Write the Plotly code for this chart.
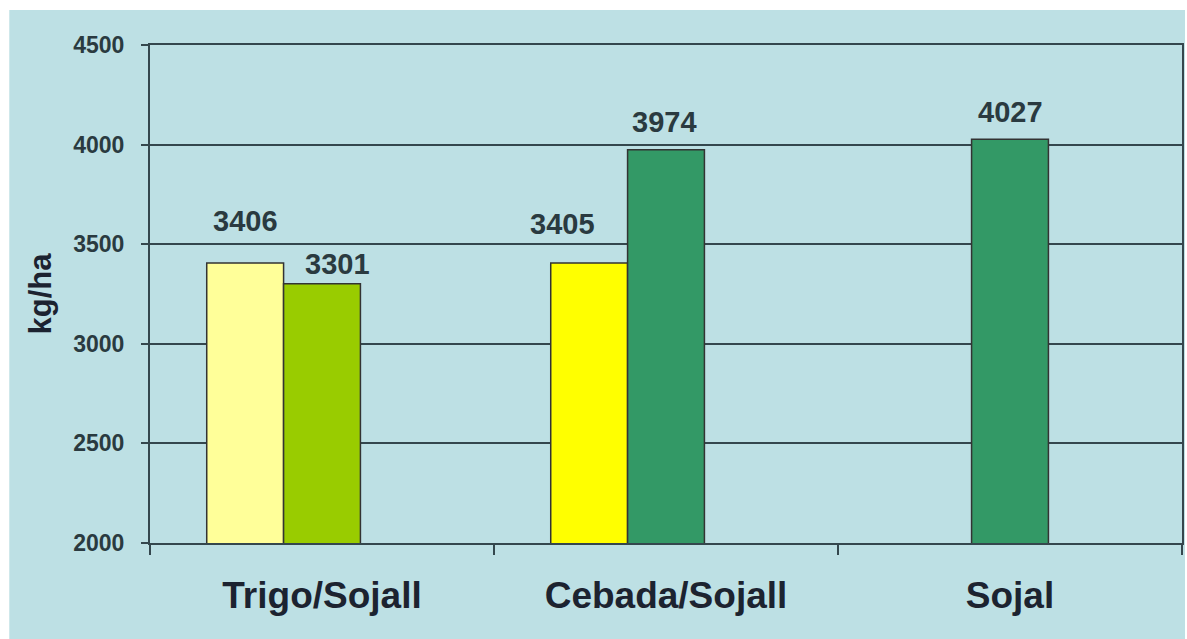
import plotly.graph_objects as go

# ---- data ----
categories = ["Trigo/Sojall", "Cebada/Sojall", "Sojal"]
series_a = [3406, 3405, None]          # first crop (wheat / barley)
series_b = [3301, 3974, 4027]          # soybean
colors_a = ["#ffff99", "#ffff00", "#ffff00"]
colors_b = ["#99cc00", "#339966", "#339966"]
y_ticks = [2000, 2500, 3000, 3500, 4000, 4500]
y_title = "kg/ha"

# ---- style ----
W, H = 1187, 639
ML, MR, MT, MB = 150, 3, 45, 96
slot = 0.2234
bg = "#bde0e4"
dark = "#34474d"
label_font = dict(family="Liberation Sans", size=29, color="#2a3a40")
# per-label fine placement (px)
shift_a = [(0, 42), (-27, 39), (0, 0)]
shift_b = [(15, 20), (-2, 28), (0, 27)]

fig = go.Figure()
fig.add_trace(go.Bar(x=categories, y=series_a, width=slot, offset=-1.5 * slot,
                     marker=dict(color=colors_a, line=dict(color="#333333", width=1.5)),
                     showlegend=False))
fig.add_trace(go.Bar(x=categories, y=series_b, width=slot, offset=-0.5 * slot,
                     marker=dict(color=colors_b, line=dict(color="#333333", width=1.5)),
                     showlegend=False))

annotations = []
for i, (va, vb) in enumerate(zip(series_a, series_b)):
    if va is not None:
        annotations.append(dict(x=i - slot, y=va, xref="x", yref="y", text=f"<b>{va}</b>",
                                showarrow=False, yanchor="middle", xshift=shift_a[i][0],
                                yshift=shift_a[i][1], font=label_font))
    if vb is not None:
        annotations.append(dict(x=i, y=vb, xref="x", yref="y", text=f"<b>{vb}</b>",
                                showarrow=False, yanchor="middle", xshift=shift_b[i][0],
                                yshift=shift_b[i][1], font=label_font))

pw = W - ML - MR
ph = H - MT - MB
# light-blue panel, leaving a thin white strip at top and left
shapes = [dict(type="rect", xref="paper", yref="paper", layer="below",
               x0=(9 - ML) / pw, x1=(W - ML) / pw,
               y0=-MB / ph, y1=(H - MB - 10) / ph,
               fillcolor=bg, line=dict(width=0))]

fig.update_layout(
    width=W, height=H,
    margin=dict(l=ML, r=MR, t=MT, b=MB),
    paper_bgcolor="white", plot_bgcolor=bg,
    barmode="overlay",
    annotations=annotations, shapes=shapes,
    font=dict(family="Liberation Sans", color="#2a3a40"),
)
fig.update_xaxes(type="category", showline=True, linecolor=dark, linewidth=2, mirror=True,
                 ticks="outside", ticklen=10, tickwidth=2, tickcolor=dark, tickson="boundaries",
                 showgrid=False, ticklabelstandoff=19,
                 tickfont=dict(family="Liberation Sans", size=37, color="#1c2330"),
                 tickvals=categories, ticktext=[f"<b>{c}</b>" for c in categories])
fig.update_yaxes(range=[y_ticks[0], y_ticks[-1]], tickvals=y_ticks,
                 ticktext=[f"<b>{t}</b>" for t in y_ticks],
                 showline=True, linecolor=dark, linewidth=2, mirror=True,
                 ticks="outside", ticklen=7, tickwidth=2, tickcolor=dark,
                 showgrid=True, gridcolor=dark, gridwidth=2, zeroline=False,
                 ticklabelstandoff=12,
                 tickfont=dict(family="Liberation Sans", size=23, color="#2a3a40"),
                 title=dict(text=f"<b>{y_title}</b>", standoff=12,
                            font=dict(family="Liberation Sans", size=31, color="#1c2330")))

fig.write_html("out.html", config={"displayModeBar": False},
               post_script="document.body.style.margin='0';document.body.style.overflow='hidden';")
